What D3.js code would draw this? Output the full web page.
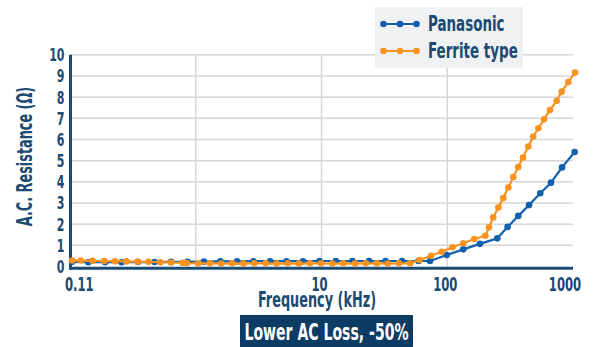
<!DOCTYPE html>
<html>
<head>
<meta charset="utf-8">
<script src="https://cdn.jsdelivr.net/npm/d3@7"></script>
<style>
  html, body { margin: 0; padding: 0; background: #fff; }
  svg text { font-family: 'Liberation Sans Narrow', 'DejaVu Sans Condensed', Roboto, sans-serif; font-weight: bold; fill: #1b4a73; }
</style>
</head>
<body>
<div id="chart"></div>
<script>
// A.C. resistance vs frequency, Panasonic vs ferrite type (log x axis).

const panasonicFreq = [0.104, 0.14, 0.19, 0.257, 0.347, 0.47, 0.636, 0.86, 1.16, 1.57, 2.13, 2.88, 3.9, 5.27, 7.13, 9.64,
  13.0, 17.6, 23.9, 32.3, 43.7, 59.1, 73, 99, 134, 182, 250, 302, 367, 447, 549, 668, 818, 1031];
const panasonicOhm = [0.22, 0.2, 0.2, 0.2, 0.21, 0.21, 0.22, 0.22, 0.23, 0.24, 0.24, 0.25, 0.25, 0.25, 0.25, 0.26,
  0.26, 0.26, 0.26, 0.26, 0.26, 0.26, 0.26, 0.54, 0.81, 1.07, 1.33, 1.87, 2.39, 2.9, 3.46, 3.96, 4.68, 5.41];

const ferriteFreq = [0.104, 0.122, 0.151, 0.187, 0.228, 0.281, 0.345, 0.421, 0.524, 0.636, 0.785, 0.847, 1.05,
  1.3, 1.59, 1.95, 2.39, 2.92, 3.6, 4.4, 5.38, 6.62, 8.1, 9.9, 12.2, 14.9, 18.5, 22.5, 27.5, 33.6, 41.3, 50.6,
  60.2, 74.3, 90.4, 110, 134, 164, 201,
  215, 232, 255, 279, 306, 335, 367, 400, 441, 483, 530, 588, 656, 742, 813, 918, 1037];
const ferriteOhm = [0.28, 0.28, 0.27, 0.26, 0.25, 0.24, 0.23, 0.22, 0.2, 0.19, 0.17, 0.16, 0.15,
  0.15, 0.14, 0.15, 0.14, 0.15, 0.15, 0.14, 0.15, 0.14, 0.15, 0.15, 0.14, 0.15, 0.14, 0.15, 0.15, 0.14, 0.15, 0.15,
  0.31, 0.51, 0.70, 0.91, 1.10, 1.30, 1.45,
  1.85, 2.32, 2.79, 3.23, 3.73, 4.23, 4.70, 5.15, 5.67, 6.14, 6.53, 6.95, 7.39, 7.83, 8.26, 8.71, 9.16];

const seriesNames = ['Panasonic', 'Ferrite type'];
const yTicks = [0, 1, 2, 3, 4, 5, 6, 7, 8, 9, 10];
const xGridValues = [1, 10, 100];
const xTickValues = [0.1, 10, 100, 1000];
const xTickText = ['0.11', '10', '100', '1000'];
const badgeText = 'Lower AC Loss, -50%';

const BLUE = '#1060ad', ORANGE = '#f7931e', NAVY = '#1b4a73', GRID = '#d6d6d6';

const W = 595, H = 347;
const svg = d3.select('#chart').append('svg')
  .attr('width', W).attr('height', H).attr('viewBox', `0 0 ${W} ${H}`);

const x = d3.scaleLog().domain([0.1, 1000]).range([70, 573]);
const y = d3.scaleLinear().domain([0, 10]).range([266.5, 54.8]);

// grid
svg.append('g').selectAll('line').data(yTicks.filter((d) => d > 0)).enter().append('line')
  .attr('x1', x(0.1)).attr('x2', x(1000))
  .attr('y1', (d) => y(d)).attr('y2', (d) => y(d))
  .attr('stroke', GRID).attr('stroke-width', 1.5);
svg.append('g').selectAll('line').data(xGridValues).enter().append('line')
  .attr('x1', (d) => x(d)).attr('x2', (d) => x(d))
  .attr('y1', y(10)).attr('y2', y(0))
  .attr('stroke', GRID).attr('stroke-width', 1.5);

// axes
svg.append('line').attr('x1', x(0.1) + 0.5).attr('x2', x(0.1) + 0.5).attr('y1', y(10)).attr('y2', y(0) + 3)
  .attr('stroke', NAVY).attr('stroke-width', 3);
svg.append('line').attr('x1', x(0.1) - 1).attr('x2', x(1000)).attr('y1', y(0) + 1.7).attr('y2', y(0) + 1.7)
  .attr('stroke', NAVY).attr('stroke-width', 3);

const texts = [];

svg.append('g').selectAll('text').data(yTicks).enter().append('text')
  .attr('x', 64.5).attr('y', (d) => y(d)).attr('dy', '0.36em')
  .attr('text-anchor', 'end').style('font-size', '18px')
  .text((d) => d).each(function () { texts.push(this); });

svg.append('g').selectAll('text').data(xTickValues).enter().append('text')
  .attr('x', (d, i) => i === 0 ? x(d) - 5 : x(d) - (d === 1000 ? 8 : 2))
  .attr('y', 290.5)
  .attr('text-anchor', (d, i) => i === 0 ? 'start' : 'middle').style('font-size', '19px')
  .text((d, i) => xTickText[i]).each(function () { texts.push(this); });

const xTitle = svg.append('text').attr('x', 317).attr('y', 307).attr('text-anchor', 'middle')
  .style('font-size', '21px').text('Frequency (kHz)');
texts.push(xTitle.node());

const yTitle = svg.append('text').attr('transform', 'translate(32,156.5) rotate(-90)')
  .attr('text-anchor', 'middle').style('font-size', '21px').text('A.C. Resistance (Ω)');
texts.push(yTitle.node());

// series
const line = d3.line().x((d) => x(d[0])).y((d) => y(d[1]));
const series = [
  { name: seriesNames[0], color: BLUE, pts: d3.zip(panasonicFreq, panasonicOhm) },
  { name: seriesNames[1], color: ORANGE, pts: d3.zip(ferriteFreq, ferriteOhm) }
];
series.forEach((s) => {
  svg.append('path').datum(s.pts).attr('d', line)
    .attr('fill', 'none').attr('stroke', s.color).attr('stroke-width', 2.2).attr('stroke-linejoin', 'round');
  svg.append('g').selectAll('circle').data(s.pts).enter().append('circle')
    .attr('cx', (d) => x(d[0])).attr('cy', (d) => y(d[1])).attr('r', 3.3).attr('fill', s.color);
});

// legend
const lg = svg.append('g');
lg.append('rect').attr('x', 375).attr('y', 7).attr('width', 148).attr('height', 61).attr('fill', '#f0f1f3');
series.forEach((s, i) => {
  const cy = 24 + i * 27;
  lg.append('line').attr('x1', 382).attr('x2', 417).attr('y1', cy).attr('y2', cy)
    .attr('stroke', s.color).attr('stroke-width', 2.2);
  lg.selectAll(null).data([383.5, 400, 416.5]).enter().append('circle')
    .attr('cx', (d) => d).attr('cy', cy).attr('r', 3.3).attr('fill', s.color);
  const t = lg.append('text').attr('x', 428).attr('y', cy + 7).style('font-size', '22px').text(s.name);
  texts.push(t.node());
});

// badge
svg.append('rect').attr('x', 240).attr('y', 315).attr('width', 173).attr('height', 34).attr('fill', '#0c3b63');
const badge = svg.append('text').attr('x', 326.5).attr('y', 340).attr('text-anchor', 'middle')
  .style('font-size', '23px').style('fill', '#fff').text(badgeText);
texts.push(badge.node());

// squeeze everything to a condensed look, based on the x title width
const k = 118 / xTitle.node().getComputedTextLength();
texts.forEach((el) => {
  const w = el.getComputedTextLength();
  d3.select(el).attr('textLength', w * k).attr('lengthAdjust', 'spacingAndGlyphs');
});
</script>
</body>
</html>
